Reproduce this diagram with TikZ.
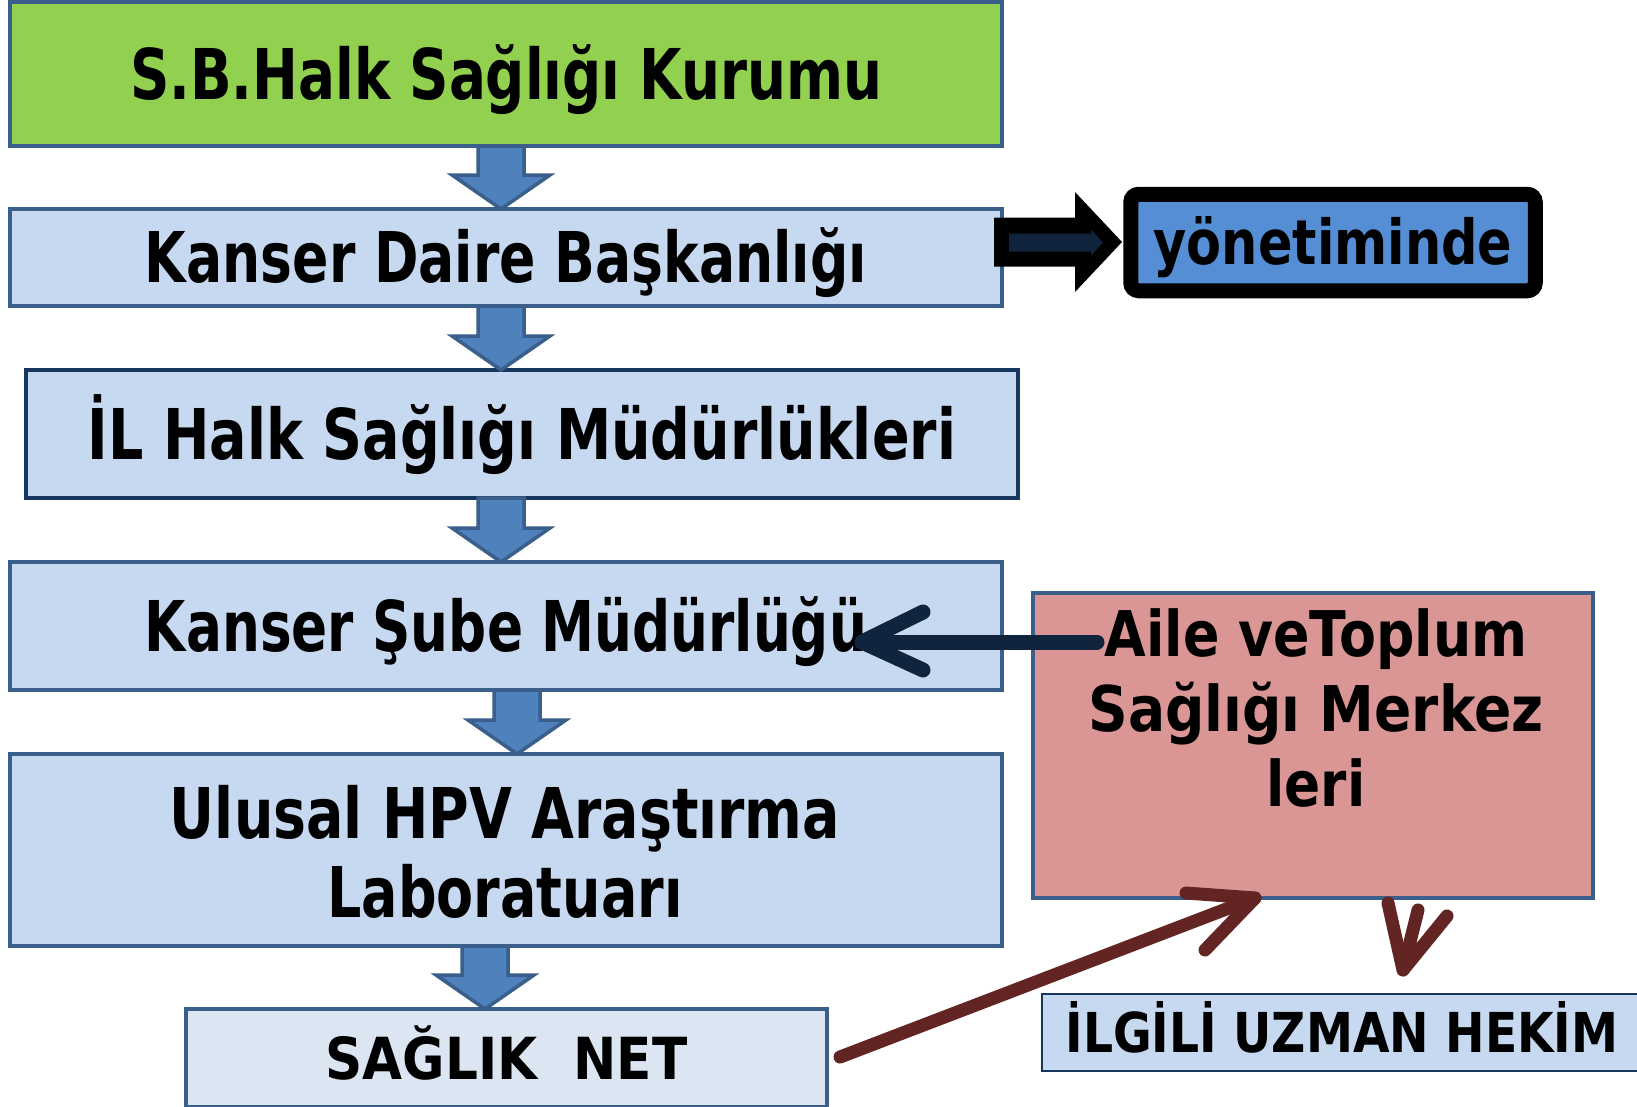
\documentclass[tikz,border=0pt]{standalone}
\usepackage{fontspec}
\setmainfont{DejaVu Sans}
\usepackage{graphicx}
\usetikzlibrary{calc}
\definecolor{boxblue}{HTML}{C6D9F1}
\definecolor{boxedge}{HTML}{3A5F8B}
\definecolor{navyedge}{HTML}{17375E}
\definecolor{grn}{HTML}{92D050}
\definecolor{arrowblue}{HTML}{4F81BD}
\definecolor{pinkbox}{HTML}{D99694}
\definecolor{netfill}{HTML}{DCE6F2}
\definecolor{yonfill}{HTML}{558ED5}
\definecolor{brownarr}{HTML}{632523}
\definecolor{darknavy}{HTML}{10243E}
\newcommand\fw[2]{\resizebox{#1pt}{\height}{#2}}
\newcommand\blockdown[3]{%
  \filldraw[blockarrow] let \p1=(#2.south), \p2=(#3.north) in
    ({#1pt-23pt},\y1) -- ({#1pt+23pt},\y1) -- ({#1pt+23pt},{\y2+34pt})
    -- ({#1pt+49pt},{\y2+34pt}) -- ({#1pt},\y2) -- ({#1pt-49pt},{\y2+34pt})
    -- ({#1pt-23pt},{\y2+34pt}) -- cycle;}
\begin{document}
\begin{tikzpicture}[x=1pt,y=-1pt,
  box/.style={rectangle, draw=boxedge, line width=4pt, fill=boxblue,
    inner sep=0pt, outer sep=0pt, text height=50pt, text depth=0pt,
    font=\fontsize{70}{84}\selectfont\bfseries},
  txt/.style={inner sep=0pt, outer sep=0pt, align=center},
  blockarrow/.style={fill=arrowblue, draw=boxedge, line width=3.5pt, line join=miter},
  brownline/.style={draw=brownarr, line width=13pt, line cap=round, line join=round},
  navyline/.style={draw=darknavy, line width=15pt, line cap=round, line join=round}]
\useasboundingbox (0,0) rectangle (1637,1106);
\fill[white] (0,0) rectangle (1637,1106);

% left column boxes
\node[box, fill=grn, minimum width=992pt, minimum height=144pt] (kurum) at (506,74)
  {\fw{752}{S.B.Halk Sağlığı Kurumu}};
\node[box, minimum width=992pt, minimum height=97pt] (daire) at (506,257.5)
  {\fw{722}{Kanser Daire Başkanlığı}};
\node[box, draw=navyedge, line width=4.5pt, minimum width=992pt, minimum height=128pt] (il) at (522,434)
  {\fw{868}{İL Halk Sağlığı Müdürlükleri}};
\node[box, minimum width=992pt, minimum height=128pt] (sube) at (506,626)
  {\fw{722}{Kanser Şube Müdürlüğü}};
\node[box, minimum width=992pt, minimum height=192pt] (hpv) at (506,850) {};
\node[txt, font=\fontsize{70}{79}\selectfont\bfseries] (hpvtext) at (505,851.5)
  {\fw{670}{Ulusal HPV Araştırma}\\\fw{355}{Laboratuarı}};
\node[box, fill=netfill, minimum width=641pt, minimum height=98pt,
  font=\fontsize{58}{70}\selectfont\bfseries, text height=42pt] (net) at (506.5,1058)
  {\fw{362}{SAĞLIK\hspace{0.7em}NET}};

% right side boxes
\node[box, draw=black, line width=15pt, rounded corners=8pt, fill=yonfill,
  minimum width=404.5pt, minimum height=96.5pt,
  font=\fontsize{62}{74}\selectfont\bfseries, text height=43pt] (yon) at (1333,242.5)
  {\fw{359}{yönetiminde}};
\node[box, fill=pinkbox, line width=4.5pt, minimum width=560pt, minimum height=305pt] (aile) at (1313,745.5) {};
\node[txt, font=\fontsize{63}{75}\selectfont\bfseries] (ailetext) at (1316,708)
  {\fw{423}{Aile veToplum}\\\fw{455}{Sağlığı Merkez}\\\fw{99}{leri}};
\node[box, draw=navyedge, line width=2.5pt, minimum width=600pt, minimum height=77pt,
  font=\fontsize{55}{66}\selectfont\bfseries, text height=40pt] (uzman) at (1342,1032.5)
  {\fw{553}{İLGİLİ UZMAN HEKİM}};

% block arrows down
\blockdown{501}{kurum}{daire}
\blockdown{501}{daire}{il}
\blockdown{501}{il}{sube}
\blockdown{517}{sube}{hpv}
\blockdown{485}{hpv}{net}

% black block arrow to "yönetiminde"
\coordinate (k0) at ($(daire.east)+(-8,-15.5)$);
\fill[black] (k0) -- ++(0,-24.5) -- ++(81,0) -- ++(0,-25.5) -- ++(47,50)
  -- ++(-47,50) -- ++(0,-25.5) -- ++(-81,0) -- cycle;
\fill[darknavy] ($(k0)+(15,-8.5)$) -- ++(82,0) -- ++(0,-4) -- ++(12,13)
  -- ++(-12,13) -- ++(0,-4) -- ++(-82,0) -- cycle;

% navy arrow from Aile box to Şube box
\coordinate (n1s) at ($(aile.north west)+(64,49)$);
\coordinate (n1t) at ($(sube.east)+(-140,16)$);
\draw[navyline] (n1s) -- (n1t);
\draw[navyline] ($(n1t)+(61,-30)$) -- (n1t) -- ($(n1t)+(61,28)$);

% brown arrow from SAĞLIK NET to Aile box
\coordinate (b1s) at ($(net.east)+(13,-1)$);
\coordinate (b1t) at ($(aile.south west)+(222,0)$);
\draw[brownline] (b1s) -- (b1t);
\draw[brownline] ($(b1t)+(-69,-5)$) -- (b1t) -- ($(b1t)+(-50,52)$);

% brown arrow from Aile box down to İLGİLİ UZMAN HEKİM
\coordinate (b2s) at ($(aile.south west)+(355,5)$);
\coordinate (b2t) at ($(uzman.north west)+(361,-24)$);
\draw[brownline] (b2s) -- (b2t);
\draw[brownline] ($(b2t)+(44,-54)$) -- (b2t) -- ($(b2t)+(15,-60)$);
\end{tikzpicture}
\end{document}
